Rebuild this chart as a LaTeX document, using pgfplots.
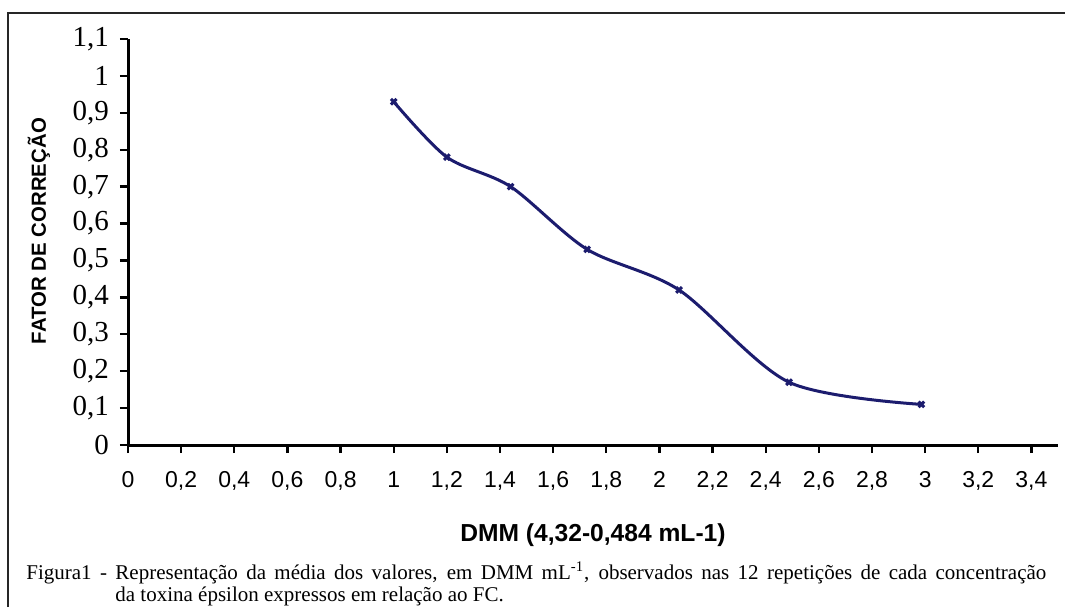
\documentclass[border=0pt]{standalone}
\usepackage{fontspec}
\setmainfont{Liberation Serif}
\newfontfamily\arial{Liberation Sans}
\usepackage{pgfplots}
\pgfplotsset{compat=1.18}
\definecolor{navy}{RGB}{28,28,110}
\begin{document}
\begin{tikzpicture}
\useasboundingbox (0pt,0pt) rectangle (532.5pt,303.5pt);
\draw[line width=1pt, black!85] (4pt,0pt) -- (4pt,297pt) -- (532.5pt,297pt);
\begin{axis}[
  at={(64pt,81pt)}, anchor=south west,
  scale only axis, width=465pt, height=203pt,
  xmin=0, xmax=3.5, ymin=0, ymax=1.1,
  axis lines=left,
  axis line style={-, line width=1.5pt, black},
  tick align=outside,
  major tick length=4pt,
  tick style={line width=1.2pt, black},
  xtick={0,0.2,0.4,0.6,0.8,1,1.2,1.4,1.6,1.8,2,2.2,2.4,2.6,2.8,3,3.2,3.4},
  ytick={0,0.1,0.2,0.3,0.4,0.5,0.6,0.7,0.8,0.9,1,1.1},
  /pgf/number format/use comma,
  /pgf/number format/assume math mode=true,
  xticklabel style={font=\arial\fontsize{11.5}{14}\selectfont, anchor=base, text height=8.5pt, text depth=2.5pt, yshift=-17pt},
  yticklabel style={font=\fontsize{14.5}{16}\selectfont, xshift=-2pt},
  xlabel={DMM (4,32-0,484 mL-1)},
  xlabel style={at={(rel axis cs:0.5,-0.222)}, anchor=center, font=\arial\bfseries\fontsize{12.3}{14}\selectfont},
  ylabel={FATOR DE CORREÇÃO},
  ylabel style={at={(rel axis cs:-0.0957,0.527)}, anchor=center, font=\arial\bfseries\fontsize{10.2}{12}\selectfont},
  clip=false,
]
\addplot[navy, line width=1.5pt, smooth, tension=0.5, mark=x, mark size=2pt, mark options={line width=1.5pt}]
  coordinates {(1,0.93) (1.2,0.78) (1.44,0.70) (1.728,0.53) (2.074,0.42) (2.488,0.17) (2.986,0.11)};
\end{axis}
\node[anchor=base west, inner sep=0pt] at (13pt,14pt)
  {\parbox[t]{510pt}{\fontsize{10.5}{11}\selectfont\hangindent=44.5pt \hangafter=1 Figura1 - Representação da média dos valores, em DMM mL\textsuperscript{-1}, observados nas 12 repetições de cada concentração\linebreak da toxina épsilon expressos em relação ao FC.}};
\end{tikzpicture}
\end{document}
